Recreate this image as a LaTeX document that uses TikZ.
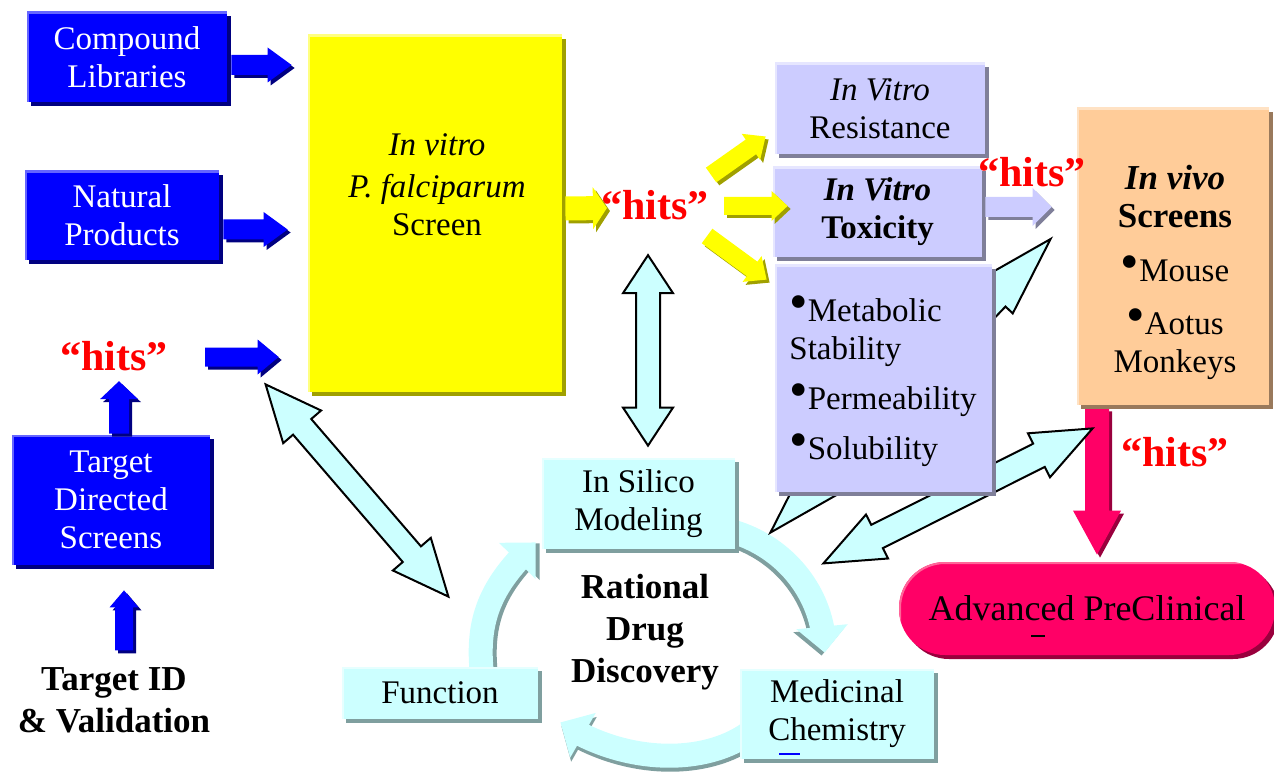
\documentclass[tikz,border=0pt]{standalone}
\usepackage{fontspec}
\usepackage{graphicx}
\setmainfont{Liberation Serif}
\usetikzlibrary{calc,arrows.meta,bending,shadows}
\pgfdeclarelayer{bg}
\pgfsetlayers{bg,main}

\definecolor{pBlue}{HTML}{0000FF}
\definecolor{pNavy}{HTML}{000080}
\definecolor{pBlueHi}{HTML}{6666FF}
\definecolor{pYellow}{HTML}{FFFF00}
\definecolor{pYellowHi}{HTML}{FFFF80}
\definecolor{pOlive}{HTML}{A0A000}
\definecolor{pLav}{HTML}{CCCCFF}
\definecolor{pLavHi}{HTML}{E6E6FF}
\definecolor{pLavDk}{HTML}{7F7F99}
\definecolor{pPeach}{HTML}{FFCC99}
\definecolor{pPeachHi}{HTML}{FFE2C4}
\definecolor{pPeachDk}{HTML}{99795C}
\definecolor{pCyan}{HTML}{CCFFFF}
\definecolor{pCyanHi}{HTML}{E6FFFF}
\definecolor{pCyanDk}{HTML}{7F9F9F}
\definecolor{pMag}{HTML}{FF0066}
\definecolor{pMagHi}{HTML}{FF6699}
\definecolor{pMagDk}{HTML}{99003D}
\definecolor{pRed}{HTML}{FF0000}

\newcommand{\txtfont}{\fontsize{16.5}{19}\selectfont}
\newcommand{\headfont}{\fontsize{17.5}{21}\selectfont\bfseries}
\newcommand{\hitsfont}{\fontsize{21}{25}\selectfont\bfseries}
\newcommand{\advfont}{\fontsize{18}{21}\selectfont}
\newcommand{\bul}{\raisebox{.05em}{\scalebox{1.6}{•}}}

% block arrow: [style]{from}{to}{shaft half}{head half}{head length}
\newcommand{\blockarr}[6][]{%
  \coordinate (ba-s) at #2;
  \coordinate (ba-e) at #3;
  \coordinate (ba-h) at ($(ba-e)!#6!(ba-s)$);
  \path[#1] ($(ba-s)!#4!90:(ba-e)$) -- ($(ba-h)!#4!90:(ba-e)$) -- ($(ba-h)!#5!90:(ba-e)$)
    -- (ba-e) -- ($(ba-h)!#5!-90:(ba-e)$) -- ($(ba-h)!#4!-90:(ba-e)$) -- ($(ba-s)!#4!-90:(ba-e)$) -- cycle;
}
% double block arrow, same arguments
\newcommand{\dblarr}[6][]{%
  \coordinate (da-s) at #2;
  \coordinate (da-e) at #3;
  \coordinate (da-p) at ($(da-s)!#6!(da-e)$);
  \coordinate (da-q) at ($(da-e)!#6!(da-s)$);
  \path[#1] (da-s) -- ($(da-p)!#5!90:(da-e)$) -- ($(da-p)!#4!90:(da-e)$) -- ($(da-q)!#4!90:(da-e)$)
    -- ($(da-q)!#5!90:(da-e)$) -- (da-e) -- ($(da-q)!#5!-90:(da-e)$) -- ($(da-q)!#4!-90:(da-e)$)
    -- ($(da-p)!#4!-90:(da-e)$) -- ($(da-p)!#5!-90:(da-e)$) -- cycle;
}

\begin{document}
\begin{tikzpicture}[x=0.5pt, y=-0.5pt,
  hilite/.style={path picture={\draw[#1, line width=2pt]
    (path picture bounding box.south west) -- (path picture bounding box.north west)
    -- (path picture bounding box.north east);}},
  card/.style n args={3}{rectangle, inner sep=0pt, align=center, font=\txtfont,
    fill=#1, hilite=#3,
    drop shadow={shadow xshift=2pt, shadow yshift=-2pt, opacity=1, fill=#2}},
  bluecard/.style={card={pBlue}{pNavy}{pBlueHi}, text=white},
  yelcard/.style={card={pYellow}{pOlive}{pYellowHi}},
  lavcard/.style={card={pLav}{pLavDk}{pLavHi}},
  peachcard/.style={card={pPeach}{pPeachDk}{pPeachHi}},
  cyancard/.style={card={pCyan}{pCyanDk}{pCyanHi}},
  plaintxt/.style={inner sep=0pt, align=center, font=\txtfont},
  boldtxt/.style={inner sep=0pt, align=center, font=\headfont},
  hitstxt/.style={inner sep=0pt, font=\hitsfont, text=pRed},
  arrshd/.style={drop shadow={shadow xshift=1.5pt, shadow yshift=-1.5pt, opacity=1, fill=#1}},
  bluearr/.style={fill=pBlue, arrshd=pNavy},
  yelarr/.style={fill=pYellow, arrshd=pOlive},
  lavarr/.style={fill=pLav, arrshd=pLavDk},
  magarr/.style={fill=pMag, arrshd=pMagDk},
  cyanarr/.style={fill=pCyan, draw=black, line width=1pt},
  cycarr/.style={draw=pCyan, line width=12pt, -{Triangle[length=13pt, width=25pt]}},
  cycshd/.style={cycarr, draw=pCyanDk}
]
  \useasboundingbox (0,0) rectangle (1274,775);

  % Sources (left column)
  \node[bluecard, minimum width=100pt, minimum height=45pt] (comp) at (127,57) {Compound\\Libraries};
  \node[bluecard, minimum width=97pt, minimum height=44.5pt] (nat) at (122,215.5) {Natural\\Products};
  \node[bluecard, minimum width=99pt, minimum height=65pt] (tds) at (111,500) {Target\\Directed\\Screens};
  \node[hitstxt] (hitsl) at (114,356) {“hits”};
  \node[boldtxt] (tid) at (114,700) {Target ID\\\& Validation};

  % Primary screen
  \node[yelcard, minimum width=127pt, minimum height=178.5pt] (scr) at (435,213.5) {};
  \node[plaintxt] (scrtxt) at (437,185) {\textit{In vitro}\\[2pt]\textit{P. falciparum}\\Screen};
  \node[hitstxt] (hitsm) at (655,205) {“hits”};

  % Secondary assays
  \node[lavcard, minimum width=105pt, minimum height=45.5pt] (res) at (880,108.5) {\textit{In Vitro}\\Resistance};
  \node[lavcard, minimum width=104.5pt, minimum height=45pt, font=\txtfont\bfseries] (tox) at (877.5,212) {\textit{In Vitro}\\Toxicity};
  \node[lavcard, minimum width=108.5pt, minimum height=113.5pt] (met) at (883.5,378.5) {};
  \node[plaintxt, anchor=west, align=left] (mettxt) at (789,381)
    {\bul Metabolic\\Stability\\[6pt]\bul Permeability\\[6pt]\bul Solubility};

  % In vivo
  \node[peachcard, minimum width=96pt, minimum height=148.5pt] (vivo) at (1173,256.5) {};
  \node[plaintxt] (vivotxt) at (1175,272)
    {{\headfont\textit{In vivo}}\\{\headfont Screens}\\[8pt]\bul Mouse\\[7.5pt]\bul Aotus\\Monkeys};
  \node[hitstxt] (hitsr) at (1032,172) {“hits”};
  \node[hitstxt] (hitsb) at (1175,452) {“hits”};
  \node[card={pMag}{pMagDk}{pMagHi}, rounded corners=23pt, minimum width=188pt,
    minimum height=46.5pt, font=\advfont] (adv) at (1087,608.5) {Advanced PreClinical};

  % Rational drug discovery cycle
  \node[cyancard, minimum width=96.5pt, minimum height=45.5pt] (silico) at (638.5,503.5) {In Silico\\Modeling};
  \node[cyancard, minimum width=97pt, minimum height=45pt] (medchem) at (837,714) {Medicinal\\Chemistry};
  \node[cyancard, minimum width=98pt, minimum height=26pt] (func) at (440,693) {Function};
  \node[boldtxt] (rdd) at (645,632) {Rational\\Drug\\Discovery};

  \begin{pgfonlayer}{bg}
    % cycle arrows
    \coordinate (c1a) at ($(silico.south east)+(-7,-19)$);
    \coordinate (c1b) at ($(medchem.north west)+(85,-16)$);
    \coordinate (c2a) at ($(medchem.south west)+(10,-27)$);
    \coordinate (c2b) at ($(func.south east)+(22,3)$);
    \coordinate (c3a) at ($(func.north)+(42,8)$);
    \coordinate (c3b) at ($(silico.south west)+(-6,-7)$);
    \draw[cycshd, transform canvas={shift={(-3,3)}}] (c1a) .. controls (785,545) and (825,595) .. (c1b);
    \draw[cycarr] (c1a) .. controls (785,545) and (825,595) .. (c1b);
    \draw[cycshd, transform canvas={shift={(1,4)}}] (c2a) .. controls (705,765) and (625,765) .. (c2b);
    \draw[cycarr] (c2a) .. controls (705,765) and (625,765) .. (c2b);
    \draw[cycshd, transform canvas={shift={(4,1)}}] (c3a) .. controls (476,620) and (490,585) .. (c3b);
    \draw[cycarr] (c3a) .. controls (476,620) and (490,585) .. (c3b);
    % to advanced preclinical
    \blockarr[magarr]{($(vivo.south)+(-76,3)$)}{($(adv.north)+(10,-7)$)}{6pt}{12pt}{22pt}
    % links behind the assay box
    \dblarr[cyanarr]{($(silico.north east)+(35,75)$)}{($(vivo.west)+(-26,-17.5)$)}{7pt}{12pt}{40pt}
    \dblarr[cyanarr]{($(silico.south east)+(88,14)$)}{($(vivo.south west)+(16,23)$)}{6.5pt}{12.3pt}{30pt}
  \end{pgfonlayer}

  % Blue arrows
  \blockarr[bluearr]{($(comp.east)+(4,8)$)}{($(comp.east -| scr.west)+(-16,8)$)}{5pt}{8.75pt}{12pt}
  \blockarr[bluearr]{($(nat.east)+(4,14)$)}{($(nat.east -| scr.west)+(-20,14)$)}{5pt}{8.75pt}{12pt}
  \blockarr[bluearr]{($(hitsl.east)+(37,1)$)}{($(hitsl.east -| scr.west)+(-29,1)$)}{4.75pt}{8.75pt}{10.5pt}
  \blockarr[bluearr]{($(tds.north)+(8,-1)$)}{($(hitsl.south -| tds.north)+(8,10)$)}{5pt}{9.5pt}{9pt}
  \blockarr[bluearr]{($(tds.south)+(13,85)$)}{($(tds.south)+(13,25)$)}{4.5pt}{7.25pt}{8.5pt}

  % Yellow arrows
  \blockarr[yelarr]{($(scr.east)+(3,-5)$)}{($(hitsm.west)+(6,3)$)}{6pt}{10.5pt}{7pt}
  \blockarr[yelarr]{($(hitsm.east)+(2,-30)$)}{($(res.west)+(-9,28)$)}{4.5pt}{8pt}{9pt}
  \blockarr[yelarr]{($(hitsm.east)+(15,1)$)}{($(tox.west)+(15,-6)$)}{4.5pt}{7.5pt}{8pt}
  \blockarr[yelarr]{($(hitsm.east)+(-2,31)$)}{($(met.north west)+(-8,15)$)}{4.5pt}{8pt}{9pt}

  % Toxicity to in vivo
  \blockarr[lavarr]{($(tox.east)+(3,-5)$)}{($(vivo.west)+(-25,-49.5)$)}{5pt}{9.5pt}{9.5pt}

  % Links to the cycle
  \dblarr[cyanarr]{($(hitsm.south)+(-7,35)$)}{($(silico.north)+(9.5,-12)$)}{6pt}{12.5pt}{19pt}
  \dblarr[cyanarr]{($(scr.south west)+(-42,-8)$)}{($(func.north east)+(-90,-70)$)}{6pt}{12.5pt}{28pt}

  % stray marks
  \draw[line width=1pt] (1031,636) -- (1045,636);
  \draw[pBlue, line width=0.8pt] (779,754) -- (800,754);
\end{tikzpicture}
\end{document}
